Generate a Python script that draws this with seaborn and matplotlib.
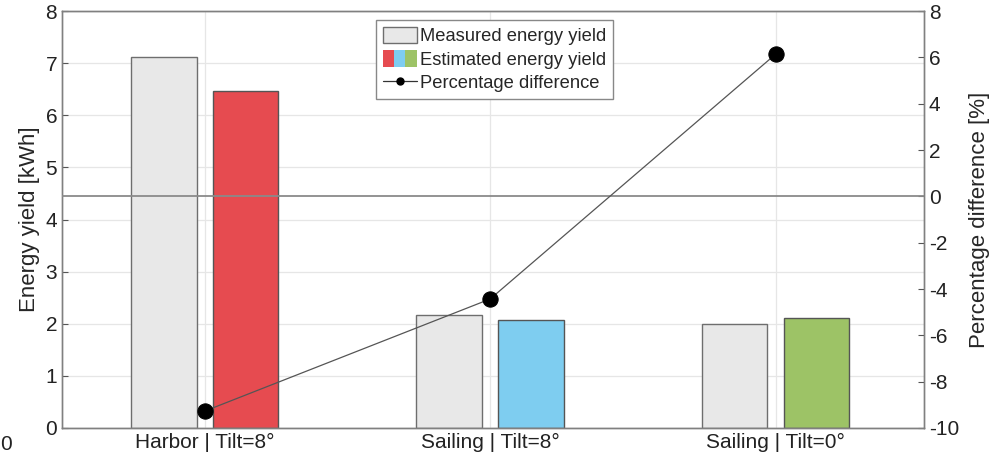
import matplotlib
matplotlib.use("Agg")
import matplotlib.pyplot as plt
import seaborn as sns
import pandas as pd
from matplotlib.patches import Patch
from matplotlib.lines import Line2D
from matplotlib.legend_handler import HandlerTuple

categories = ["Harbor | Tilt=8°", "Sailing | Tilt=8°", "Sailing | Tilt=0°"]
measured = [7.12, 2.17, 2.00]
estimated = [6.47, 2.07, 2.12]
pct_diff = [-9.27, -4.43, 6.14]
left_ticks = [0, 1, 2, 3, 4, 5, 6, 7, 8]
right_ticks = [-10, -8, -6, -4, -2, 0, 2, 4, 6, 8]

meas_color = "#E8E8E8"
est_colors = ["#E64B50", "#7ECDF0", "#9DC366"]
edge = "#6E6E6E"

sns.set_style("white")
plt.rcParams["font.family"] = ["Liberation Sans", "DejaVu Sans"]
plt.rcParams["font.size"] = 15
plt.rcParams["axes.unicode_minus"] = False

df = pd.DataFrame({
    "cat": categories * 2,
    "val": measured + estimated,
    "kind": ["Measured"] * 3 + ["Estimated"] * 3,
})

fig = plt.figure(figsize=(9.94, 4.63), dpi=100)
ax = fig.add_axes([0.0624, 0.0756, 0.8672, 0.9004])
sns.barplot(data=df, x="cat", y="val", hue="kind", hue_order=["Measured", "Estimated"],
            palette={"Measured": meas_color, "Estimated": est_colors[0]},
            width=0.574, gap=0.2, ax=ax, legend=False, edgecolor=edge, linewidth=1.0,
            saturation=1, errorbar=None, zorder=2)
# recolor estimated bars individually
bars = sorted(ax.patches, key=lambda p: p.get_x())
est_bars = [bars[i] for i in (1, 3, 5)]
for p, c in zip(est_bars, est_colors):
    p.set_facecolor(c)
    p.set_edgecolor("#555555")

ax.set_ylim(0, 8)
ax.set_yticks(left_ticks)
ax.set_xlabel("")
ax.set_ylabel("Energy yield [kWh]", fontsize=16)
ax.grid(True, color="#E6E6E6", linewidth=0.9, zorder=0)
ax.set_axisbelow(True)
ax.tick_params(axis="both", direction="in", length=4, color="#555555", labelcolor="#222222",
               labelsize=15)
for s in ax.spines.values():
    s.set_color("#808080")
    s.set_linewidth(1.0)

ax2 = ax.twinx()
sns.lineplot(x=[0, 1, 2], y=pct_diff, ax=ax2, color="#555555", linewidth=0.9,
             marker="o", markersize=11, markerfacecolor="black", markeredgecolor="black",
             zorder=5)
ax2.set_ylim(-10, 8)
ax2.set_yticks(right_ticks)
ax2.axhline(0, color="#8A8A8A", linewidth=1.3, zorder=3)
ax2.set_ylabel("Percentage difference [%]", fontsize=16, labelpad=7)
ax2.tick_params(axis="y", direction="in", length=4, color="#555555", labelcolor="#222222",
                labelsize=15)
for s in ax2.spines.values():
    s.set_color("#808080")
    s.set_linewidth(1.0)
ax.set_xlim(-0.5, 2.52)

h_meas = Patch(facecolor=meas_color, edgecolor=edge)
h_est = tuple(Patch(facecolor=c, edgecolor="none") for c in est_colors)
h_line = Line2D([], [], color="#333333", linewidth=0.9, marker="o", markersize=5,
                markerfacecolor="black", markeredgecolor="black")
leg = ax2.legend([h_meas, h_est, h_line],
                 ["Measured energy yield", "Estimated energy yield", "Percentage difference"],
                 handler_map={tuple: HandlerTuple(ndivide=None, pad=0)},
                 loc="upper center", bbox_to_anchor=(0.502, 0.978), fontsize=13.2,
                 frameon=True, fancybox=False, edgecolor="#888888", framealpha=1,
                 handlelength=1.85, handleheight=1.0, handletextpad=0.2, labelspacing=0.28,
                 borderpad=0.35, borderaxespad=0.0)
leg.get_frame().set_linewidth(1.0)
leg.set_zorder(10)

fig.text(0.0, 0.04, "0", fontsize=15, color="#222222", ha="left", va="center")

fig.savefig("out.png", dpi=100)
